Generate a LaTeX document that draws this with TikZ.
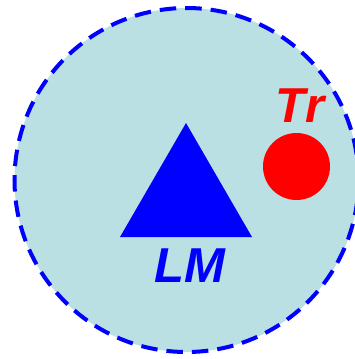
\documentclass[tikz,border=0pt]{standalone}
\usepackage{fontspec}
\setmainfont{Liberation Sans}
\definecolor{bgcyan}{RGB}{186,224,227}
\begin{document}
\begin{tikzpicture}[x=1pt,y=-1pt,
  lbl/.style={font=\fontsize{49}{49}\selectfont\bfseries\itshape, inner sep=0pt}]
\useasboundingbox (0,0) rectangle (355,359);
\node[draw=blue, fill=bgcyan, line width=4pt, dash pattern=on 16.5pt off 9pt,
      circle, minimum size=344pt, inner sep=0pt] (outer) at (186.5,180) {};
\fill[blue] (186,123) coordinate (apex) -- (252,237) coordinate (br) -- (120,237) coordinate (bl) -- cycle;
\node[lbl, text=blue] (lm) at (190,266) {LM};
\node[circle, fill=red, minimum size=67pt, inner sep=0pt] (tr) at (296.5,166.5) {};
\node[lbl, text=red] (trl) at (300,106) {Tr};
\end{tikzpicture}
\end{document}
